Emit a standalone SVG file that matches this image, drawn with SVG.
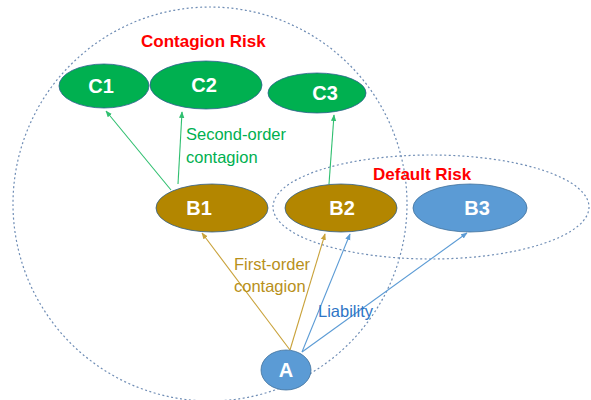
<svg xmlns="http://www.w3.org/2000/svg" width="591" height="400" viewBox="0 0 591 400">
<defs>
<style>
.bound{fill:none;stroke:#6f8db5;stroke-width:1.2;stroke-dasharray:2 2.5}
.green{fill:#00b050;stroke:#2f5f8f;stroke-width:0.8}
.gold{fill:#b38600;stroke:#2f5f8f;stroke-width:0.8}
.blue{fill:#5b9bd5;stroke:#41719c;stroke-width:0.8}
.nl{font-family:"Liberation Sans",Arial,sans-serif;font-weight:bold;font-size:20px;fill:#ffffff;text-anchor:middle}
.risk{font-family:"Liberation Sans",Arial,sans-serif;font-weight:bold;font-size:17px;fill:#ff0000}
.lab{font-family:"Liberation Sans",Arial,sans-serif;font-size:16.5px}
.cg{stroke:#2fbf6f;stroke-width:1.1;fill:none}
.cy{stroke:#c9a23a;stroke-width:1.1;fill:none}
.cb{stroke:#5b9bd5;stroke-width:1.1;fill:none}
</style>
<marker id="ag" viewBox="0 0 10 10" refX="9" refY="5" markerWidth="6" markerHeight="6" orient="auto"><path d="M0,1 L10,5 L0,9 z" fill="#2fbf6f"/></marker>
<marker id="ay" viewBox="0 0 10 10" refX="9" refY="5" markerWidth="6" markerHeight="6" orient="auto"><path d="M0,1 L10,5 L0,9 z" fill="#c9a23a"/></marker>
<marker id="ab" viewBox="0 0 10 10" refX="9" refY="5" markerWidth="6" markerHeight="6" orient="auto"><path d="M0,1 L10,5 L0,9 z" fill="#5b9bd5"/></marker>
</defs>
<rect width="591" height="400" fill="#ffffff"/>
<g id="boundaries">
<circle class="bound" cx="210" cy="204" r="197"/>
<ellipse class="bound" cx="431" cy="207" rx="158" ry="52"/>
<text class="risk" x="141" y="47">Contagion Risk</text>
<text class="risk" x="373" y="180">Default Risk</text>
</g>
<g id="connectors">
<line class="cg" x1="171" y1="190" x2="106" y2="111" marker-end="url(#ag)"/>
<line class="cg" x1="178" y1="184" x2="182" y2="112" marker-end="url(#ag)"/>
<line class="cg" x1="329" y1="184" x2="334" y2="115" marker-end="url(#ag)"/>
<line class="cy" x1="290" y1="350" x2="202" y2="233" marker-end="url(#ay)"/>
<line class="cy" x1="290" y1="350" x2="325" y2="234" marker-end="url(#ay)"/>
<line class="cb" x1="302" y1="352" x2="350" y2="234" marker-end="url(#ab)"/>
<line class="cb" x1="302" y1="352" x2="467" y2="233" marker-end="url(#ab)"/>
<text class="lab" x="186" y="140" fill="#00b050">Second-order</text>
<text class="lab" x="186" y="163" fill="#00b050">contagion</text>
<text class="lab" x="234" y="270" fill="#b8901a">First-order</text>
<text class="lab" x="234" y="292" fill="#b8901a">contagion</text>
<text class="lab" x="318" y="317" fill="#2e75c6">Liability</text>
</g>
<g id="C1"><ellipse class="green" cx="104" cy="86" rx="45" ry="22"/><text class="nl" x="101" y="93">C1</text></g>
<g id="C2"><ellipse class="green" cx="206" cy="85" rx="56" ry="24"/><text class="nl" x="204" y="92">C2</text></g>
<g id="C3"><ellipse class="green" cx="317" cy="93" rx="49" ry="20"/><text class="nl" x="325" y="100">C3</text></g>
<g id="B1"><ellipse class="gold" cx="212" cy="208" rx="56" ry="24"/><text class="nl" x="199" y="215">B1</text></g>
<g id="B2"><ellipse class="gold" cx="341" cy="208" rx="56" ry="24"/><text class="nl" x="342" y="215">B2</text></g>
<g id="B3"><ellipse class="blue" cx="470" cy="208" rx="57" ry="24"/><text class="nl" x="477" y="215">B3</text></g>
<g id="A"><ellipse class="blue" cx="286" cy="370" rx="25" ry="20"/><text class="nl" x="286" y="377">A</text></g>
</svg>
